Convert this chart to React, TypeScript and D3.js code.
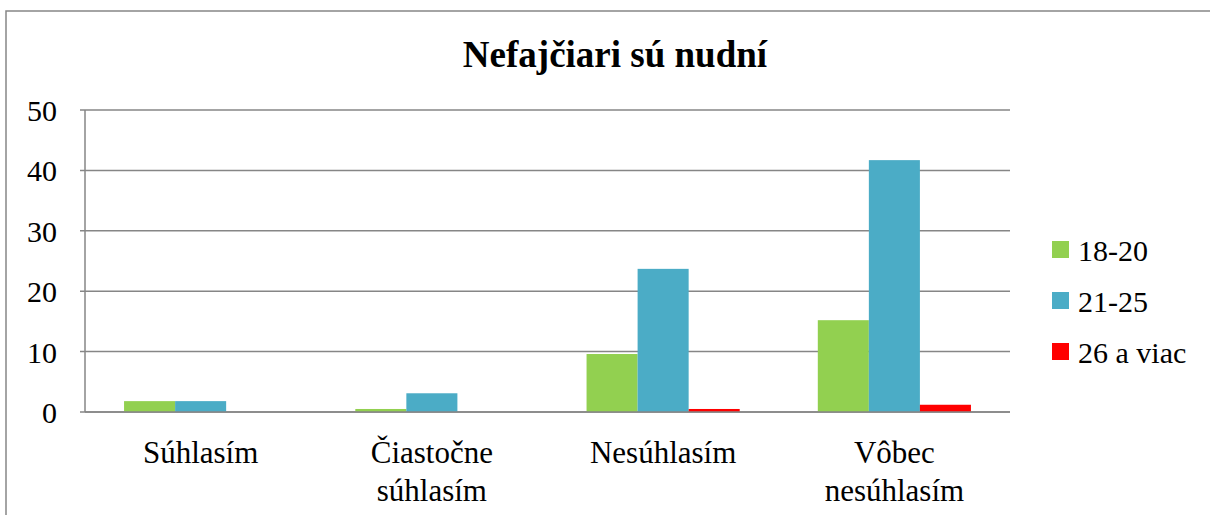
import React from "react";
import * as d3 from "d3";

const categories = [["Súhlasím"], ["Čiastočne", "súhlasím"], ["Nesúhlasím"], ["Vôbec", "nesúhlasím"]];
const seriesNames = ["18-20", "21-25", "26 a viac"];
const seriesColors = ["#92D050", "#4BACC6", "#FF0000"];
const values18 = [1.8, 0.5, 9.6, 15.2];
const values21 = [1.8, 3.1, 23.7, 41.7];
const values26 = [0, 0, 0.5, 1.2];
const yTicks = [0, 10, 20, 30, 40, 50];

const W = 1210;
const H = 515;
const font = "Liberation Serif, Times New Roman, serif";

const App = () => {
  const series = [values18, values21, values26];
  const left = 85;
  const right = 1010;
  const top = 110;
  const bottom = 412;

  const x = d3
    .scaleBand()
    .domain(categories.map((c, i) => String(i)))
    .range([left, right])
    .paddingInner(0)
    .paddingOuter(0);
  // three bars per group, gap on both sides
  const inner = d3
    .scaleBand()
    .domain(seriesNames)
    .range([0, x.bandwidth()])
    .paddingOuter(0.765)
    .paddingInner(0);
  const y = d3.scaleLinear().domain([0, 50]).range([bottom, top]);

  return (
    <svg width={W} height={H} style={{ position: "absolute", left: 0, top: 0, fontFamily: font }}>
      <rect x={0} y={0} width={W} height={H} fill="#fff" />
      {/* outer frame */}
      <path d={`M6,${H} V11 H${W}`} fill="none" stroke="#868686" strokeWidth={1.5} />

      <text x={615} y={67} textAnchor="middle" fontSize={37} fontWeight="bold">
        Nefajčiari sú nudní
      </text>

      {/* gridlines and y ticks */}
      {yTicks.map((t) => (
        <g key={t}>
          <line x1={left - 5} x2={right} y1={y(t)} y2={y(t)} stroke="#868686" strokeWidth={1.5} />
          <text x={57} y={y(t) + 11} textAnchor="end" fontSize={30}>
            {t}
          </text>
        </g>
      ))}
      <line x1={left} x2={left} y1={top} y2={bottom} stroke="#868686" strokeWidth={1.5} />

      {/* bars */}
      {categories.map((c, i) =>
        series.map((s, j) => (
          <rect
            key={`${i}-${j}`}
            x={(x(String(i)) as number) + (inner(seriesNames[j]) as number)}
            y={y(s[i])}
            width={inner.bandwidth()}
            height={bottom - y(s[i])}
            fill={seriesColors[j]}
          />
        ))
      )}
      <line x1={left} x2={right} y1={bottom} y2={bottom} stroke="#868686" strokeWidth={1.5} />

      {/* category labels */}
      {categories.map((c, i) => (
        <text
          key={i}
          x={(x(String(i)) as number) + x.bandwidth() / 2}
          y={463}
          textAnchor="middle"
          fontSize={31}
        >
          {c.map((line, k) => (
            <tspan key={k} x={(x(String(i)) as number) + x.bandwidth() / 2} dy={k === 0 ? 0 : 38}>
              {line}
            </tspan>
          ))}
        </text>
      ))}

      {/* legend */}
      {seriesNames.map((n, j) => (
        <g key={n} transform={`translate(1052, ${241 + j * 51})`}>
          <rect x={0} y={0} width={17} height={17} fill={seriesColors[j]} />
          <text x={26} y={20} fontSize={30}>
            {n}
          </text>
        </g>
      ))}
    </svg>
  );
};

export default App;
